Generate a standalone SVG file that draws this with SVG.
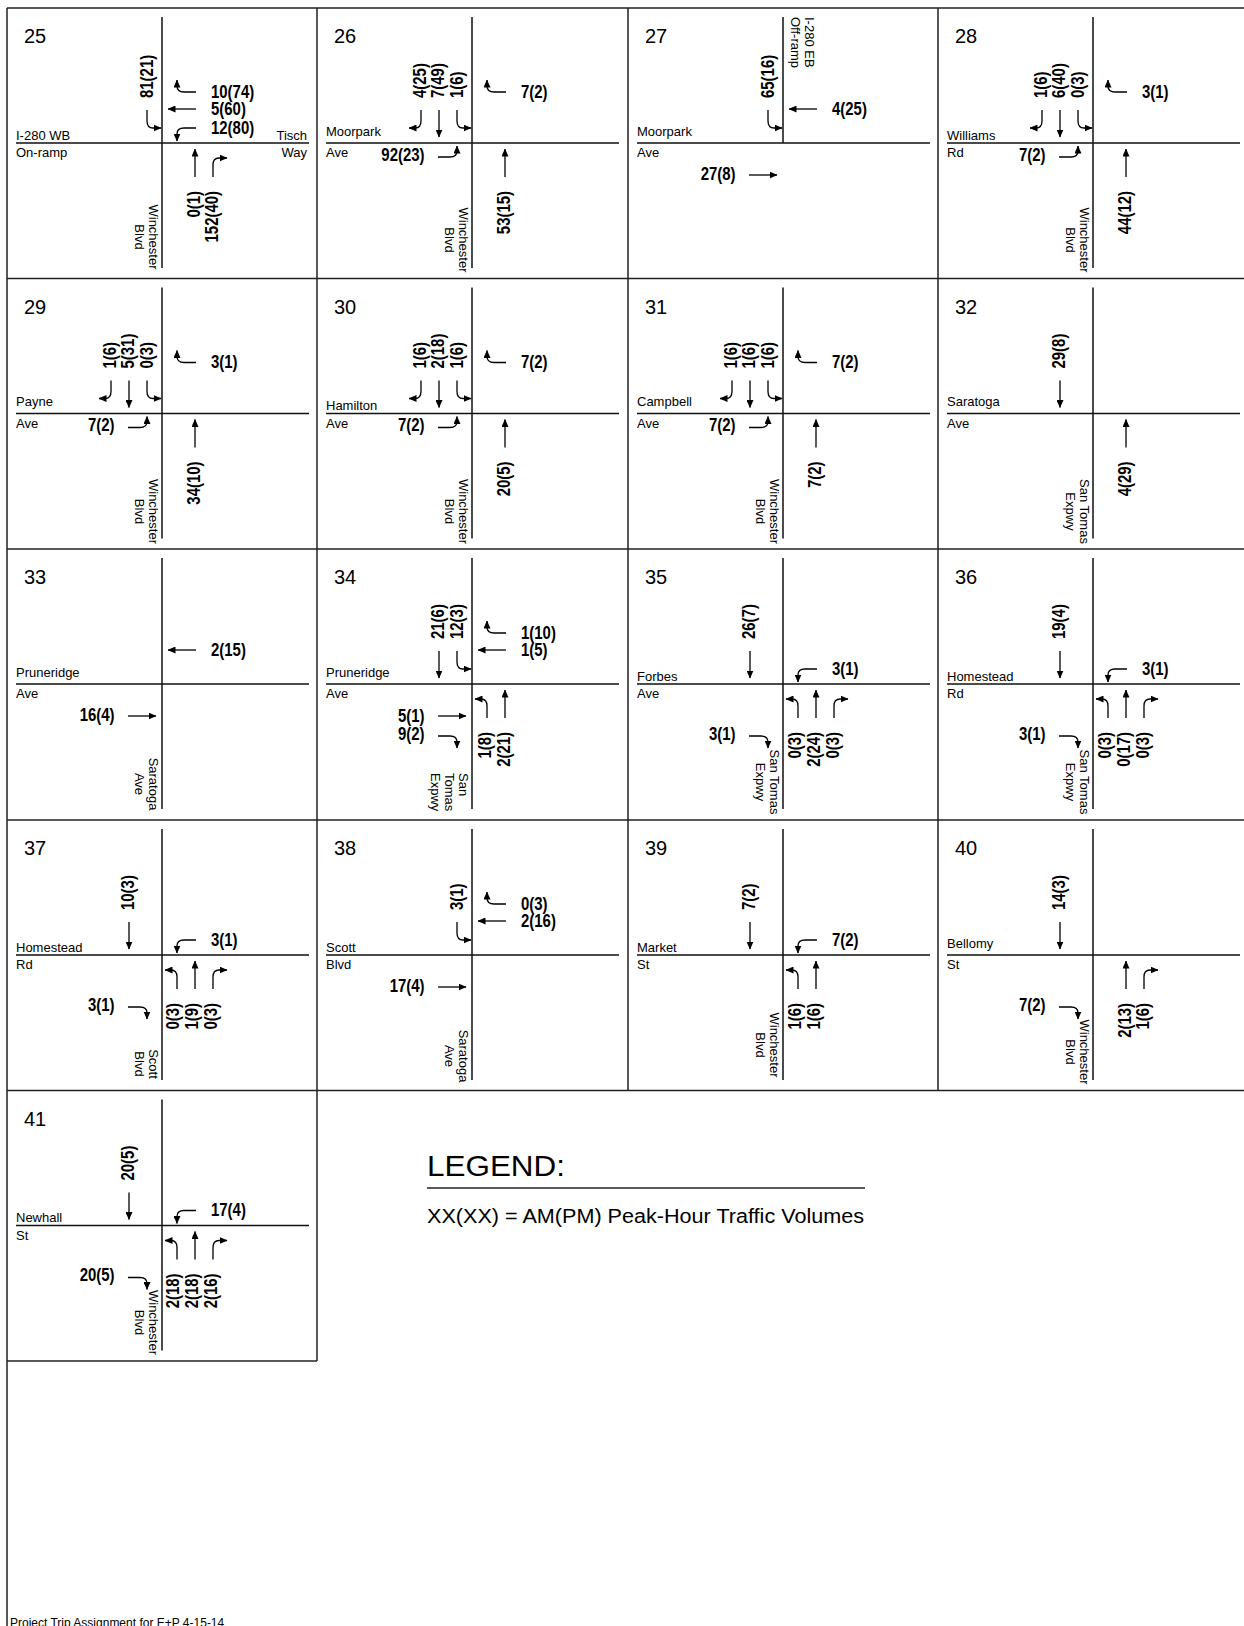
<svg xmlns="http://www.w3.org/2000/svg" xmlns:xlink="http://www.w3.org/1999/xlink" width="1244" height="1626" viewBox="0 0 1244 1626">
<style>
text{font-family:"Liberation Sans",Arial,sans-serif;fill:#000}
.num{font-size:20px}
.st{font-size:13px}
.v{font-size:18px;font-weight:bold;dominant-baseline:central}
.nb{text-anchor:end}
.end{text-anchor:end}
.mid{text-anchor:middle}
.road{stroke:#111;stroke-width:1.5;fill:none}
.frame{stroke:#222;stroke-width:1.5;fill:none}
</style>
<defs>
<marker id="ah" viewBox="0 0 8 7" refX="7.5" refY="3.5" markerWidth="8" markerHeight="7" markerUnits="userSpaceOnUse" orient="auto"><path d="M0,0 L8,3.5 L0,7 z" fill="#000"/></marker>
<path id="aSBR" d="M104,102 V113 Q104,120 98,120 L92,120" stroke="#000" stroke-width="1.3" fill="none" marker-end="url(#ah)"/>
<path id="aSBT" d="M122,102 V129" stroke="#000" stroke-width="1.3" fill="none" marker-end="url(#ah)"/>
<path id="aSBL" d="M140,102 V113 Q140,120 146,120 L154,120" stroke="#000" stroke-width="1.3" fill="none" marker-end="url(#ah)"/>
<path id="aWBR" d="M189,84 H177 Q170,84 170,78 L170,72" stroke="#000" stroke-width="1.3" fill="none" marker-end="url(#ah)"/>
<path id="aWBT" d="M189,101 H161" stroke="#000" stroke-width="1.3" fill="none" marker-end="url(#ah)"/>
<path id="aWBL" d="M189,120 H177 Q170,120 170,126 L170,133" stroke="#000" stroke-width="1.3" fill="none" marker-end="url(#ah)"/>
<path id="aEBL" d="M121,149 H133 Q140,149 140,143 L140,138" stroke="#000" stroke-width="1.3" fill="none" marker-end="url(#ah)"/>
<path id="aEBT" d="M121,167 H149" stroke="#000" stroke-width="1.3" fill="none" marker-end="url(#ah)"/>
<path id="aEBR" d="M121,187 H133 Q140,187 140,193 L140,199" stroke="#000" stroke-width="1.3" fill="none" marker-end="url(#ah)"/>
<path id="aNBL" d="M170,169 V157 Q170,150 164,150 L158,150" stroke="#000" stroke-width="1.3" fill="none" marker-end="url(#ah)"/>
<path id="aNBT" d="M188,169 V141" stroke="#000" stroke-width="1.3" fill="none" marker-end="url(#ah)"/>
<path id="aNBR" d="M206,169 V157 Q206,150 212,150 L220,150" stroke="#000" stroke-width="1.3" fill="none" marker-end="url(#ah)"/>
</defs>
<rect width="1244" height="1626" fill="#fff"/>

<g id="frame" class="frame">
<path d="M7,8 H1244 M7,8 V1626 M7,278.5 H1244 M7,549 H1244 M7,820 H1244 M7,1090.5 H1244 M317,8 V1361 M628,8 V1090.5 M938,8 V1090.5 M7,1361 H317"/>
</g>

<g id="n25" transform="translate(7,8)">
<text class="num" x="17" y="35">25</text>
<path class="road" d="M9,135 H302 M155,9 V260"/>
<text class="st" x="9" y="131.5">I-280 WB</text>
<text class="st" x="9" y="149">On-ramp</text>
<text class="st end" x="300" y="131.5">Tisch</text>
<text class="st end" x="300" y="149">Way</text>
<text class="st mid" transform="translate(142,229) rotate(90)"><tspan x="0" y="0">Winchester</tspan><tspan x="0" y="14">Blvd</tspan></text>
<text class="v" transform="translate(140.5,90) rotate(-90) scale(.83,1)">81(21)</text>
<text class="v" transform="translate(204,84) scale(.83,1)">10(74)</text>
<text class="v" transform="translate(204,101) scale(.83,1)">5(60)</text>
<text class="v" transform="translate(204,120) scale(.83,1)">12(80)</text>
<text class="v nb" transform="translate(187,183) rotate(-90) scale(.83,1)">0(1)</text>
<text class="v nb" transform="translate(205.5,183) rotate(-90) scale(.83,1)">152(40)</text>
</g>

<g id="n26" transform="translate(317,8)">
<text class="num" x="17" y="35">26</text>
<path class="road" d="M9,135 H302 M155,9 V260"/>
<text class="st" x="9" y="127.5">Moorpark</text>
<text class="st" x="9" y="149">Ave</text>
<text class="st mid" transform="translate(142,232) rotate(90)"><tspan x="0" y="0">Winchester</tspan><tspan x="0" y="14">Blvd</tspan></text>
<text class="v" transform="translate(103,90) rotate(-90) scale(.83,1)">4(25)</text>
<text class="v" transform="translate(121.5,90) rotate(-90) scale(.83,1)">7(49)</text>
<text class="v" transform="translate(140.5,90) rotate(-90) scale(.83,1)">1(6)</text>
<text class="v" transform="translate(204,84) scale(.83,1)">7(2)</text>
<text class="v end" transform="translate(107.5,147) scale(.83,1)">92(23)</text>
<text class="v nb" transform="translate(187,183) rotate(-90) scale(.83,1)">53(15)</text>
</g>

<g id="n27" transform="translate(628,8)">
<text class="num" x="17" y="35">27</text>
<path class="road" d="M9,135 H302 M155,9 V135"/>
<text class="st" x="9" y="127.5">Moorpark</text>
<text class="st" x="9" y="149">Ave</text>
<text class="st" transform="translate(177,9) rotate(90)"><tspan x="0" y="0">I-280 EB</tspan><tspan x="0" y="14">Off-ramp</tspan></text>
<text class="v" transform="translate(140.5,90) rotate(-90) scale(.83,1)">65(16)</text>
<text class="v" transform="translate(204,101) scale(.83,1)">4(25)</text>
<text class="v end" transform="translate(107.5,166) scale(.83,1)">27(8)</text>
</g>

<g id="n28" transform="translate(938,8)">
<text class="num" x="17" y="35">28</text>
<path class="road" d="M9,135 H302 M155,9 V260"/>
<text class="st" x="9" y="131.5">Williams</text>
<text class="st" x="9" y="149">Rd</text>
<text class="st mid" transform="translate(142,232) rotate(90)"><tspan x="0" y="0">Winchester</tspan><tspan x="0" y="14">Blvd</tspan></text>
<text class="v" transform="translate(103,90) rotate(-90) scale(.83,1)">1(6)</text>
<text class="v" transform="translate(121.5,90) rotate(-90) scale(.83,1)">6(40)</text>
<text class="v" transform="translate(140.5,90) rotate(-90) scale(.83,1)">0(3)</text>
<text class="v" transform="translate(204,84) scale(.83,1)">3(1)</text>
<text class="v end" transform="translate(107.5,147) scale(.83,1)">7(2)</text>
<text class="v nb" transform="translate(187,183) rotate(-90) scale(.83,1)">44(12)</text>
</g>

<g id="n29" transform="translate(7,278.5)">
<text class="num" x="17" y="35">29</text>
<path class="road" d="M9,135 H302 M155,9 V260"/>
<text class="st" x="9" y="127.5">Payne</text>
<text class="st" x="9" y="149">Ave</text>
<text class="st mid" transform="translate(142,233) rotate(90)"><tspan x="0" y="0">Winchester</tspan><tspan x="0" y="14">Blvd</tspan></text>
<text class="v" transform="translate(103,90) rotate(-90) scale(.83,1)">1(6)</text>
<text class="v" transform="translate(121.5,90) rotate(-90) scale(.83,1)">5(31)</text>
<text class="v" transform="translate(140.5,90) rotate(-90) scale(.83,1)">0(3)</text>
<text class="v" transform="translate(204,84) scale(.83,1)">3(1)</text>
<text class="v end" transform="translate(107.5,147) scale(.83,1)">7(2)</text>
<text class="v nb" transform="translate(187,183) rotate(-90) scale(.83,1)">34(10)</text>
</g>

<g id="n30" transform="translate(317,278.5)">
<text class="num" x="17" y="35">30</text>
<path class="road" d="M9,135 H302 M155,9 V260"/>
<text class="st" x="9" y="131.5">Hamilton</text>
<text class="st" x="9" y="149">Ave</text>
<text class="st mid" transform="translate(142,233) rotate(90)"><tspan x="0" y="0">Winchester</tspan><tspan x="0" y="14">Blvd</tspan></text>
<text class="v" transform="translate(103,90) rotate(-90) scale(.83,1)">1(6)</text>
<text class="v" transform="translate(121.5,90) rotate(-90) scale(.83,1)">2(18)</text>
<text class="v" transform="translate(140.5,90) rotate(-90) scale(.83,1)">1(6)</text>
<text class="v" transform="translate(204,84) scale(.83,1)">7(2)</text>
<text class="v end" transform="translate(107.5,147) scale(.83,1)">7(2)</text>
<text class="v nb" transform="translate(187,183) rotate(-90) scale(.83,1)">20(5)</text>
</g>

<g id="n31" transform="translate(628,278.5)">
<text class="num" x="17" y="35">31</text>
<path class="road" d="M9,135 H302 M155,9 V260"/>
<text class="st" x="9" y="127.5">Campbell</text>
<text class="st" x="9" y="149">Ave</text>
<text class="st mid" transform="translate(142,233) rotate(90)"><tspan x="0" y="0">Winchester</tspan><tspan x="0" y="14">Blvd</tspan></text>
<text class="v" transform="translate(103,90) rotate(-90) scale(.83,1)">1(6)</text>
<text class="v" transform="translate(121.5,90) rotate(-90) scale(.83,1)">1(6)</text>
<text class="v" transform="translate(140.5,90) rotate(-90) scale(.83,1)">1(6)</text>
<text class="v" transform="translate(204,84) scale(.83,1)">7(2)</text>
<text class="v end" transform="translate(107.5,147) scale(.83,1)">7(2)</text>
<text class="v nb" transform="translate(187,183) rotate(-90) scale(.83,1)">7(2)</text>
</g>

<g id="n32" transform="translate(938,278.5)">
<text class="num" x="17" y="35">32</text>
<path class="road" d="M9,135 H302 M155,9 V260"/>
<text class="st" x="9" y="127.5">Saratoga</text>
<text class="st" x="9" y="149">Ave</text>
<text class="st mid" transform="translate(142,233) rotate(90)"><tspan x="0" y="0">San Tomas</tspan><tspan x="0" y="14">Expwy</tspan></text>
<text class="v" transform="translate(121.5,90) rotate(-90) scale(.83,1)">29(8)</text>
<text class="v nb" transform="translate(187,183) rotate(-90) scale(.83,1)">4(29)</text>
</g>

<g id="n33" transform="translate(7,549)">
<text class="num" x="17" y="35">33</text>
<path class="road" d="M9,135 H302 M155,9 V260"/>
<text class="st" x="9" y="127.5">Pruneridge</text>
<text class="st" x="9" y="149">Ave</text>
<text class="st mid" transform="translate(142,235) rotate(90)"><tspan x="0" y="0">Saratoga</tspan><tspan x="0" y="14">Ave</tspan></text>
<text class="v" transform="translate(204,101) scale(.83,1)">2(15)</text>
<text class="v end" transform="translate(107.5,166) scale(.83,1)">16(4)</text>
</g>

<g id="n34" transform="translate(317,549)">
<text class="num" x="17" y="35">34</text>
<path class="road" d="M9,135 H302 M155,9 V260"/>
<text class="st" x="9" y="127.5">Pruneridge</text>
<text class="st" x="9" y="149">Ave</text>
<text class="st" transform="translate(142,224) rotate(90)"><tspan x="0" y="0">San</tspan><tspan x="0" y="14">Tomas</tspan><tspan x="0" y="28">Expwy</tspan></text>
<text class="v" transform="translate(121.5,90) rotate(-90) scale(.83,1)">21(6)</text>
<text class="v" transform="translate(140.5,90) rotate(-90) scale(.83,1)">12(3)</text>
<text class="v" transform="translate(204,84) scale(.83,1)">1(10)</text>
<text class="v" transform="translate(204,101) scale(.83,1)">1(5)</text>
<text class="v end" transform="translate(107.5,167) scale(.83,1)">5(1)</text>
<text class="v end" transform="translate(107.5,185) scale(.83,1)">9(2)</text>
<text class="v nb" transform="translate(168,183) rotate(-90) scale(.83,1)">1(8)</text>
<text class="v nb" transform="translate(187,183) rotate(-90) scale(.83,1)">2(21)</text>
</g>

<g id="n35" transform="translate(628,549)">
<text class="num" x="17" y="35">35</text>
<path class="road" d="M9,135 H302 M155,9 V260"/>
<text class="st" x="9" y="131.5">Forbes</text>
<text class="st" x="9" y="149">Ave</text>
<text class="st mid" transform="translate(142,233) rotate(90)"><tspan x="0" y="0">San Tomas</tspan><tspan x="0" y="14">Expwy</tspan></text>
<text class="v" transform="translate(121.5,90) rotate(-90) scale(.83,1)">26(7)</text>
<text class="v" transform="translate(204,120) scale(.83,1)">3(1)</text>
<text class="v end" transform="translate(107.5,185) scale(.83,1)">3(1)</text>
<text class="v nb" transform="translate(167,183) rotate(-90) scale(.83,1)">0(3)</text>
<text class="v nb" transform="translate(186,183) rotate(-90) scale(.83,1)">2(24)</text>
<text class="v nb" transform="translate(205,183) rotate(-90) scale(.83,1)">0(3)</text>
</g>

<g id="n36" transform="translate(938,549)">
<text class="num" x="17" y="35">36</text>
<path class="road" d="M9,135 H302 M155,9 V260"/>
<text class="st" x="9" y="131.5">Homestead</text>
<text class="st" x="9" y="149">Rd</text>
<text class="st mid" transform="translate(142,233) rotate(90)"><tspan x="0" y="0">San Tomas</tspan><tspan x="0" y="14">Expwy</tspan></text>
<text class="v" transform="translate(121.5,90) rotate(-90) scale(.83,1)">19(4)</text>
<text class="v" transform="translate(204,120) scale(.83,1)">3(1)</text>
<text class="v end" transform="translate(107.5,185) scale(.83,1)">3(1)</text>
<text class="v nb" transform="translate(167,183) rotate(-90) scale(.83,1)">0(3)</text>
<text class="v nb" transform="translate(186,183) rotate(-90) scale(.83,1)">0(17)</text>
<text class="v nb" transform="translate(205,183) rotate(-90) scale(.83,1)">0(3)</text>
</g>

<g id="n37" transform="translate(7,820)">
<text class="num" x="17" y="35">37</text>
<path class="road" d="M9,135 H302 M155,9 V260"/>
<text class="st" x="9" y="131.5">Homestead</text>
<text class="st" x="9" y="149">Rd</text>
<text class="st mid" transform="translate(142,244) rotate(90)"><tspan x="0" y="0">Scott</tspan><tspan x="0" y="14">Blvd</tspan></text>
<text class="v" transform="translate(121.5,90) rotate(-90) scale(.83,1)">10(3)</text>
<text class="v" transform="translate(204,120) scale(.83,1)">3(1)</text>
<text class="v end" transform="translate(107.5,185) scale(.83,1)">3(1)</text>
<text class="v nb" transform="translate(166,183) rotate(-90) scale(.83,1)">0(3)</text>
<text class="v nb" transform="translate(185,183) rotate(-90) scale(.83,1)">1(9)</text>
<text class="v nb" transform="translate(204,183) rotate(-90) scale(.83,1)">0(3)</text>
</g>

<g id="n38" transform="translate(317,820)">
<text class="num" x="17" y="35">38</text>
<path class="road" d="M9,135 H302 M155,9 V260"/>
<text class="st" x="9" y="131.5">Scott</text>
<text class="st" x="9" y="149">Blvd</text>
<text class="st mid" transform="translate(142,236) rotate(90)"><tspan x="0" y="0">Saratoga</tspan><tspan x="0" y="14">Ave</tspan></text>
<text class="v" transform="translate(140.5,90) rotate(-90) scale(.83,1)">3(1)</text>
<text class="v" transform="translate(204,84) scale(.83,1)">0(3)</text>
<text class="v" transform="translate(204,101) scale(.83,1)">2(16)</text>
<text class="v end" transform="translate(107.5,166) scale(.83,1)">17(4)</text>
</g>

<g id="n39" transform="translate(628,820)">
<text class="num" x="17" y="35">39</text>
<path class="road" d="M9,135 H302 M155,9 V260"/>
<text class="st" x="9" y="131.5">Market</text>
<text class="st" x="9" y="149">St</text>
<text class="st mid" transform="translate(142,225) rotate(90)"><tspan x="0" y="0">Winchester</tspan><tspan x="0" y="14">Blvd</tspan></text>
<text class="v" transform="translate(121.5,90) rotate(-90) scale(.83,1)">7(2)</text>
<text class="v" transform="translate(204,120) scale(.83,1)">7(2)</text>
<text class="v nb" transform="translate(167.5,183) rotate(-90) scale(.83,1)">1(6)</text>
<text class="v nb" transform="translate(186,183) rotate(-90) scale(.83,1)">1(6)</text>
</g>

<g id="n40" transform="translate(938,820)">
<text class="num" x="17" y="35">40</text>
<path class="road" d="M9,135 H302 M155,9 V260"/>
<text class="st" x="9" y="127.5">Bellomy</text>
<text class="st" x="9" y="149">St</text>
<text class="st mid" transform="translate(142,232) rotate(90)"><tspan x="0" y="0">Winchester</tspan><tspan x="0" y="14">Blvd</tspan></text>
<text class="v" transform="translate(121.5,90) rotate(-90) scale(.83,1)">14(3)</text>
<text class="v end" transform="translate(107.5,185) scale(.83,1)">7(2)</text>
<text class="v nb" transform="translate(187,183) rotate(-90) scale(.83,1)">2(13)</text>
<text class="v nb" transform="translate(205,183) rotate(-90) scale(.83,1)">1(6)</text>
</g>

<g id="n41" transform="translate(7,1090.5)">
<text class="num" x="17" y="35">41</text>
<path class="road" d="M9,135 H302 M155,9 V260"/>
<text class="st" x="9" y="131.5">Newhall</text>
<text class="st" x="9" y="149">St</text>
<text class="st mid" transform="translate(142,232) rotate(90)"><tspan x="0" y="0">Winchester</tspan><tspan x="0" y="14">Blvd</tspan></text>
<text class="v" transform="translate(121.5,90) rotate(-90) scale(.83,1)">20(5)</text>
<text class="v" transform="translate(204,120) scale(.83,1)">17(4)</text>
<text class="v end" transform="translate(107.5,185) scale(.83,1)">20(5)</text>
<text class="v nb" transform="translate(166,183) rotate(-90) scale(.83,1)">2(18)</text>
<text class="v nb" transform="translate(185,183) rotate(-90) scale(.83,1)">2(18)</text>
<text class="v nb" transform="translate(204,183) rotate(-90) scale(.83,1)">2(16)</text>
</g>

<g id="connectors">
<g transform="translate(7,8)"><use href="#aSBL"/><use href="#aWBR"/><use href="#aWBT"/><use href="#aWBL"/><use href="#aNBT"/><use href="#aNBR"/></g>
<g transform="translate(317,8)"><use href="#aSBR"/><use href="#aSBT"/><use href="#aSBL"/><use href="#aWBR"/><use href="#aEBL"/><use href="#aNBT"/></g>
<g transform="translate(628,8)"><use href="#aSBL"/><use href="#aWBT"/><use href="#aEBT"/></g>
<g transform="translate(938,8)"><use href="#aSBR"/><use href="#aSBT"/><use href="#aSBL"/><use href="#aWBR"/><use href="#aEBL"/><use href="#aNBT"/></g>
<g transform="translate(7,278.5)"><use href="#aSBR"/><use href="#aSBT"/><use href="#aSBL"/><use href="#aWBR"/><use href="#aEBL"/><use href="#aNBT"/></g>
<g transform="translate(317,278.5)"><use href="#aSBR"/><use href="#aSBT"/><use href="#aSBL"/><use href="#aWBR"/><use href="#aEBL"/><use href="#aNBT"/></g>
<g transform="translate(628,278.5)"><use href="#aSBR"/><use href="#aSBT"/><use href="#aSBL"/><use href="#aWBR"/><use href="#aEBL"/><use href="#aNBT"/></g>
<g transform="translate(938,278.5)"><use href="#aSBT"/><use href="#aNBT"/></g>
<g transform="translate(7,549)"><use href="#aWBT"/><use href="#aEBT"/></g>
<g transform="translate(317,549)"><use href="#aSBT"/><use href="#aSBL"/><use href="#aWBR"/><use href="#aWBT"/><use href="#aEBT"/><use href="#aEBR"/><use href="#aNBL"/><use href="#aNBT"/></g>
<g transform="translate(628,549)"><use href="#aSBT"/><use href="#aWBL"/><use href="#aEBR"/><use href="#aNBL"/><use href="#aNBT"/><use href="#aNBR"/></g>
<g transform="translate(938,549)"><use href="#aSBT"/><use href="#aWBL"/><use href="#aEBR"/><use href="#aNBL"/><use href="#aNBT"/><use href="#aNBR"/></g>
<g transform="translate(7,820)"><use href="#aSBT"/><use href="#aWBL"/><use href="#aEBR"/><use href="#aNBL"/><use href="#aNBT"/><use href="#aNBR"/></g>
<g transform="translate(317,820)"><use href="#aSBL"/><use href="#aWBR"/><use href="#aWBT"/><use href="#aEBT"/></g>
<g transform="translate(628,820)"><use href="#aSBT"/><use href="#aWBL"/><use href="#aNBL"/><use href="#aNBT"/></g>
<g transform="translate(938,820)"><use href="#aSBT"/><use href="#aEBR"/><use href="#aNBT"/><use href="#aNBR"/></g>
<g transform="translate(7,1090.5)"><use href="#aSBT"/><use href="#aWBL"/><use href="#aEBR"/><use href="#aNBL"/><use href="#aNBT"/><use href="#aNBR"/></g>
</g>

<g id="legend">
<text x="427" y="1176" font-size="29" textLength="138" lengthAdjust="spacingAndGlyphs">LEGEND:</text>
<path d="M427,1188 H865" stroke="#222" stroke-width="1.5"/>
<text x="427" y="1222.5" font-size="20" textLength="437" lengthAdjust="spacingAndGlyphs">XX(XX) = AM(PM) Peak-Hour Traffic Volumes</text>
</g>

<text id="footer" x="10" y="1627" font-size="12">Project Trip Assignment for E+P 4-15-14</text>
</svg>
